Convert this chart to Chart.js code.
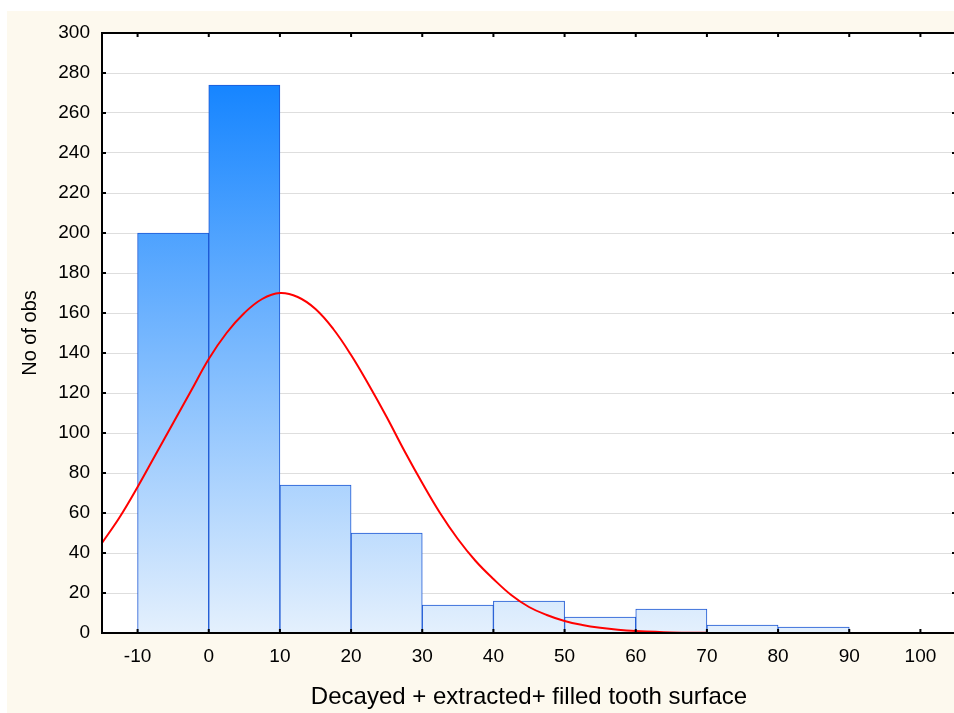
<!DOCTYPE html>
<html>
<head>
<meta charset="utf-8">
<title>Decayed + extracted + filled tooth surface</title>
<script src="https://cdn.jsdelivr.net/npm/chart.js@4.4.1/dist/chart.umd.min.js"></script>
<style>
    html, body { margin: 0; padding: 0; background: #fff; overflow: hidden; }
    #paper { position: absolute; left: 7px; top: 11px; right: 0; bottom: 0; background: #fdf9ee; }
    #histChart { position: absolute; left: 0; top: 0; }
</style>
</head>
<body>
<div id="paper"></div>
<canvas id="histChart" width="958" height="713"></canvas>
<script>
// Histogram bins (lower edge) and counts
const binStarts = [-10, 0, 10, 20, 30, 40, 50, 60, 70, 80];
const binWidth = 10;
const counts = [200, 274, 74, 50, 14, 16, 8, 12, 4, 3];

// Fitted normal curve, sampled along the x axis
const curveX = [-15, -12.5, -10, -7.5, -5, -2.5, 0, 2.5, 5, 7.5, 10, 12.5, 15, 17.5, 20, 22.5,
    25, 27.5, 30, 32.5, 35, 37.5, 40, 42.5, 45, 47.5, 50, 52.5, 55, 57.5, 60, 65, 70];
const curveY = [45, 58, 73, 89, 105, 121, 137, 150, 160, 167, 170, 168, 162, 152, 139, 124,
    108, 91, 75, 60, 47, 36, 27, 19, 13, 9, 6, 4, 2.6, 1.6, 1, 0.3, 0.1];

// Axis ticks
const xTicks = [-10, 0, 10, 20, 30, 40, 50, 60, 70, 80, 90, 100];
const yMin = 0, yMax = 300, yStep = 20;

const fontFamily = '"Liberation Sans", Arial, sans-serif';

function barGradient(context) {
    const chart = context.chart;
    const { ctx, chartArea, scales } = chart;
    if (!chartArea) return '#6fb0fc';
    const top = scales.y.getPixelForValue(Math.max(...counts));
    const bottom = scales.y.getPixelForValue(0);
    const g = ctx.createLinearGradient(0, top, 0, bottom);
    g.addColorStop(0, '#1685ff');
    g.addColorStop(1, '#e4f0fd');
    return g;
}

// White plot area, black frame and inward tick marks on all four sides
const framePlugin = {
    id: 'frame',
    beforeDraw(chart) {
        const { ctx, chartArea: a } = chart;
        ctx.save();
        ctx.fillStyle = '#fff';
        ctx.fillRect(a.left, a.top, a.right - a.left, a.bottom - a.top);
        ctx.restore();
    },
    afterDatasetsDraw(chart) {
        const { ctx, chartArea: a, scales: { x, y } } = chart;
        const len = 4;
        ctx.save();
        ctx.strokeStyle = '#000';
        ctx.lineWidth = 2;
        ctx.beginPath();
        ctx.rect(a.left, a.top, a.right - a.left, a.bottom - a.top);
        x.ticks.forEach(t => {
            const px = x.getPixelForValue(t.value);
            ctx.moveTo(px, a.bottom); ctx.lineTo(px, a.bottom - len);
            ctx.moveTo(px, a.top); ctx.lineTo(px, a.top + len);
        });
        y.ticks.forEach(t => {
            const py = y.getPixelForValue(t.value);
            ctx.moveTo(a.left, py); ctx.lineTo(a.left + len, py);
            ctx.moveTo(a.right, py); ctx.lineTo(a.right - len, py);
        });
        ctx.stroke();
        ctx.restore();
    }
};

function initChart() {
    const ctx = document.getElementById('histChart').getContext('2d');
    new Chart(ctx, {
        type: 'bar',
        data: {
            datasets: [
                {
                    type: 'line',
                    label: 'Normal',
                    data: curveX.map((v, i) => ({ x: v, y: curveY[i] })),
                    borderColor: '#ff0000',
                    borderWidth: 2,
                    pointRadius: 0,
                    fill: false,
                    tension: 0.4,
                    order: 0
                },
                {
                    label: 'No of obs',
                    data: binStarts.map((s, i) => ({ x: s + binWidth / 2, y: counts[i] })),
                    backgroundColor: barGradient,
                    borderColor: '#1d58d4',
                    borderWidth: 1,
                    barPercentage: 1,
                    categoryPercentage: 1,
                    order: 1
                }
            ]
        },
        options: {
            responsive: false,
            animation: false,
            events: [],
            layout: { padding: { top: 33, right: 2, left: 0, bottom: 0 } },
            scales: {
                x: {
                    type: 'linear',
                    min: -15,
                    max: 105,
                    offset: false,
                    afterBuildTicks: scale => { scale.ticks = xTicks.map(v => ({ value: v })); },
                    afterFit: scale => { scale.height = 80; },
                    grid: { display: false, drawTicks: false },
                    border: { display: false },
                    ticks: {
                        autoSkip: false,
                        maxRotation: 0,
                        padding: 12,
                        color: '#000',
                        font: { family: fontFamily, size: 19 }
                    },
                    title: {
                        display: true,
                        text: 'Decayed + extracted+ filled tooth surface',
                        color: '#000',
                        font: { family: fontFamily, size: 24 },
                        padding: { top: 0, bottom: 1 }
                    }
                },
                y: {
                    min: yMin,
                    max: yMax,
                    afterFit: scale => { scale.width = 102; },
                    grid: { color: '#dedede', lineWidth: 1, drawTicks: false },
                    border: { display: false },
                    ticks: {
                        stepSize: yStep,
                        padding: 12,
                        color: '#000',
                        font: { family: fontFamily, size: 19 }
                    },
                    title: {
                        display: true,
                        text: 'No of obs',
                        color: '#000',
                        font: { family: fontFamily, size: 20 },
                        padding: { top: 18, bottom: 0 }
                    }
                }
            },
            plugins: {
                legend: { display: false },
                tooltip: { enabled: false }
            }
        },
        plugins: [framePlugin]
    });
}

document.addEventListener('DOMContentLoaded', initChart);
</script>
</body>
</html>
